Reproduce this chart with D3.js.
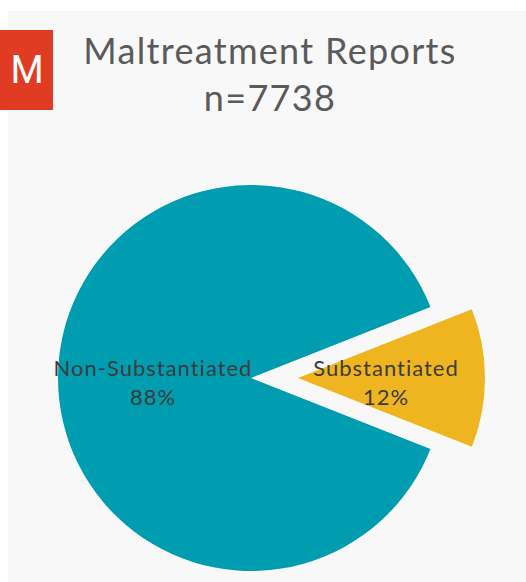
<!DOCTYPE html>
<html>
<head>
<meta charset="utf-8">
<script src="https://cdn.jsdelivr.net/npm/d3@7"></script>
<style>
  html, body { margin: 0; padding: 0; background: #ffffff; }
  svg { display: block; }
</style>
</head>
<body>
<script>
const categories = ["Substantiated", "Non-Substantiated"];
const percents = [12, 88];
const sliceColors = ["#efb521", "#009caf"];
const explodedSlices = ["Substantiated"];
const titleLines = ["Maltreatment Reports", "n=7738"];

const W = 526, H = 582;
const svg = d3.select("body").append("svg").attr("width", W).attr("height", H);

// panel background
svg.append("rect").attr("x", 8).attr("y", 11).attr("width", W - 8).attr("height", H - 11).attr("fill", "#f8f8f8");

// red badge
svg.append("rect").attr("x", 0).attr("y", 30).attr("width", 53).attr("height", 80).attr("fill", "#e03c24");
svg.append("text").attr("x", 27).attr("y", 83).attr("text-anchor", "middle")
  .attr("font-family", "Roboto, 'Open Sans', sans-serif").attr("font-size", 38)
  .attr("fill", "#ffffff").text("M");

// title
const title = svg.append("text").attr("text-anchor", "middle")
  .attr("font-family", "Lato, 'Open Sans', sans-serif").attr("font-size", 36)
  .attr("letter-spacing", 1.3).attr("fill", "#5a5a5a");
title.selectAll("tspan").data(titleLines).join("tspan")
  .attr("x", 270).attr("y", (d, i) => 64 + i * 47).text(d => d);

// pie
const cx = 251, cy = 378, R = 193, explode = 47;
const explodedR = 187;
const data = categories.map((c, i) => ({ cat: c, value: percents[i], color: sliceColors[i] }));
const half = (percents[0] / d3.sum(percents)) * Math.PI; // half angle of first slice
const a0 = Math.PI / 2 - half;
const pie = d3.pie().sort(null).value(d => d.value).startAngle(a0).endAngle(a0 + 2 * Math.PI);
const arc = d3.arc().innerRadius(0)
  .outerRadius(d => explodedSlices.includes(d.data.cat) ? explodedR : R);

const arcs = pie(data);
const g = svg.append("g").attr("transform", `translate(${cx},${cy})`);

const slice = g.selectAll("g.slice").data(arcs).join("g").attr("class", "slice")
  .attr("transform", d => {
    if (!explodedSlices.includes(d.data.cat)) return null;
    const mid = (d.startAngle + d.endAngle) / 2;
    return `translate(${explode * Math.sin(mid)},${-explode * Math.cos(mid)})`;
  });

slice.append("path").attr("d", arc).attr("fill", d => d.data.color);

const labelR = { "Substantiated": 88, "Non-Substantiated": 98 };
slice.append("text")
  .attr("text-anchor", "middle")
  .attr("font-family", "Lato, 'Open Sans', sans-serif").attr("font-size", 22)
  .attr("letter-spacing", 1).attr("fill", "#3c3c3c")
  .each(function (d) {
    const mid = (d.startAngle + d.endAngle) / 2;
    const r = labelR[d.data.cat];
    const x = r * Math.sin(mid), y = -r * Math.cos(mid);
    const t = d3.select(this);
    t.append("tspan").attr("x", x).attr("y", y - 2).text(d.data.cat);
    t.append("tspan").attr("x", x).attr("y", y + 27).text(d.data.value + "%");
  });
</script>
</body>
</html>
